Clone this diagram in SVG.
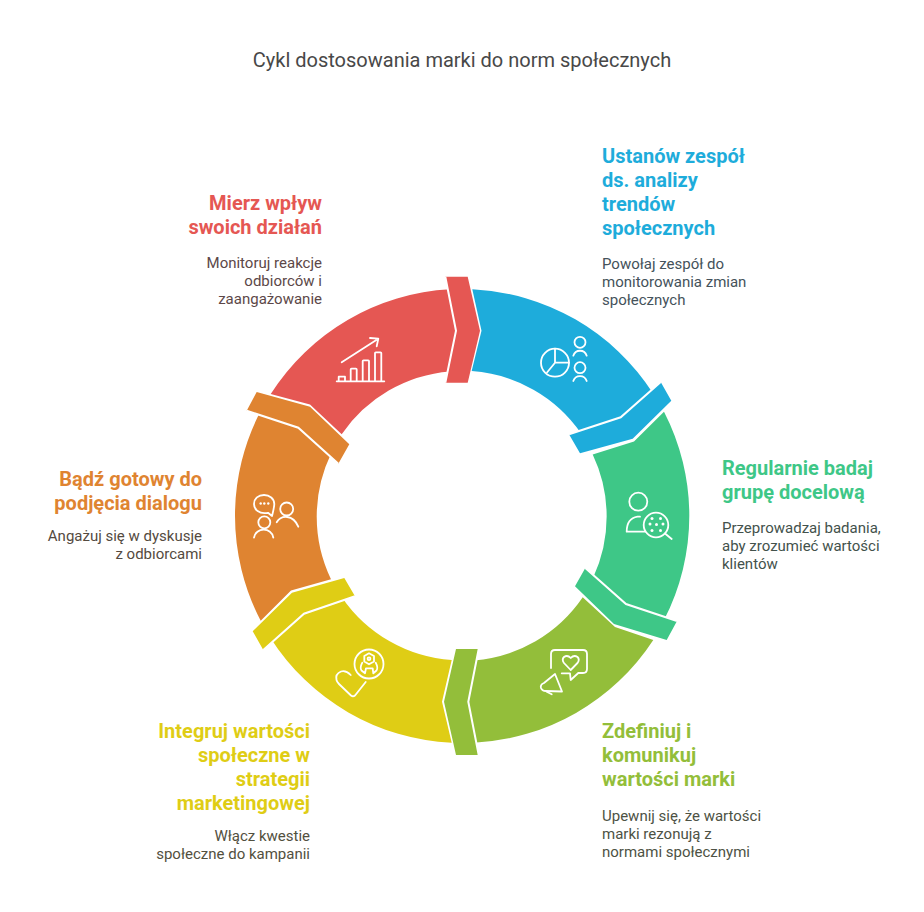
<svg xmlns="http://www.w3.org/2000/svg" width="924" height="912" viewBox="0 0 924 912">
<style>
text{font-family:Roboto,"Liberation Sans",sans-serif}
.title{font-size:20px;fill:#484848;text-anchor:middle}
.h{font-size:20px;font-weight:700}
.d{font-size:15px;fill:#4a4a4a}
.e{text-anchor:end}
.i{fill:none;stroke:#fff;stroke-width:1.8;stroke-linecap:round;stroke-linejoin:round}
.dot{fill:#fff}
.sep{fill:none;stroke:#fff;stroke-width:2}
.blue{fill:#1eacdb}.red{fill:#e55753}.orange{fill:#df8431}.yellow{fill:#dfcd15}.olive{fill:#93be3a}.green{fill:#3ec787}
</style>
<rect width="924" height="912" fill="#fff"/>
<text class="title" x="462" y="67">Cykl dostosowania marki do norm społecznych</text>

<g id="node-blue">
<path class="blue" d="M472.300 289.300A227 227 0 0 1 653 393.300L622.500 419.500 581 433.200A145 145 0 0 0 471.700 371L481.500 330.700Z"/>
<g class="i"><circle cx="555" cy="362.700" r="14"/><path d="M555 348.700V362.700H569M555 362.700L547 372.500"/><circle cx="580" cy="342.300" r="5.500"/><path d="M573.300 355.700A7 7 0 0 1 586.700 355.700"/><circle cx="580" cy="367.700" r="5.500"/><path d="M573.300 381A7 7 0 0 1 586.700 381"/></g>
<text class="h" fill="#1eacdb"><tspan x="602" y="163">Ustanów zespół</tspan><tspan x="602" y="187">ds. analizy</tspan><tspan x="602" y="211">trendów</tspan><tspan x="602" y="235">społecznych</tspan></text>
<text class="d" style="fill:#44525a"><tspan x="602" y="269">Powołaj zespół do</tspan><tspan x="602" y="287">monitorowania zmian</tspan><tspan x="602" y="305">społecznych</tspan></text>
</g>

<g id="node-green">
<path class="green" d="M664 411.700A227 227 0 0 1 664 620L624 606.500 593 578A145 145 0 0 0 592.700 454.500L634 441.500Z"/>
<g class="i"><circle cx="638.300" cy="501.700" r="9"/><path d="M640 516.700H637.500Q626.700 518.500 626.700 531.700H645"/><circle cx="656" cy="525" r="12.300"/><path d="M665 533.500L671.700 539"/></g>
<g class="dot"><circle cx="656.500" cy="524.500" r="1.500"/><circle cx="650" cy="524" r="1.500"/><circle cx="663" cy="524" r="1.500"/><circle cx="652" cy="518.500" r="1.500"/><circle cx="660.500" cy="518.500" r="1.500"/><circle cx="652" cy="530.500" r="1.500"/><circle cx="660.500" cy="530.500" r="1.500"/></g>
<text class="h" fill="#3ec787"><tspan x="722" y="475">Regularnie badaj</tspan><tspan x="722" y="499">grupę docelową</tspan></text>
<text class="d" style="fill:#43524c"><tspan x="722" y="533">Przeprowadzaj badania,</tspan><tspan x="722" y="551">aby zrozumieć wartości</tspan><tspan x="722" y="569">klientów</tspan></text>
</g>

<g id="node-olive">
<path class="olive" d="M653.300 640A227 227 0 0 1 474 742.700L465 701.700 474 660.500A145 145 0 0 0 582.700 597.300L615 627Z"/>
<g class="i"><path d="M551 668V654Q551 650 555 650H583Q587 650 587 654V669Q587 673 583 673H578.300L570.700 680 570 673.300H561.700"/><path d="M570.700 670L564 663Q561.500 659.500 564 657Q567.500 654.500 570.700 658Q574 654.500 577.500 657Q580 659.500 577.500 663Z"/><path d="M555 674L544 683Q540 684.500 541 688Q542 691 546 691L562 691.500Z"/><path d="M546.700 691.700L551.700 694.300"/></g>
<text class="h" fill="#93be3a"><tspan x="602" y="738">Zdefiniuj i</tspan><tspan x="602" y="762">komunikuj</tspan><tspan x="602" y="786">wartości marki</tspan></text>
<text class="d" style="fill:#4d5244"><tspan x="602" y="821">Upewnij się, że wartości</tspan><tspan x="602" y="839">marki rezonują z</tspan><tspan x="602" y="857">normami społecznymi</tspan></text>
</g>

<g id="node-yellow">
<path class="yellow" d="M451.700 742.700A227 227 0 0 1 270.500 637.900L303 611 342 597.400A145 145 0 0 0 451.700 660L442 701.700Z"/>
<g class="i"><circle cx="369" cy="664" r="14.500"/><path d="M369 653.300L374 656V661.500L369 664.300 364.300 661.500V656Z"/><circle cx="369" cy="658.700" r="1.400"/><path d="M362.300 662.700Q359.500 668 361.500 670.500L365 673.300 366 668.300H372.700L373.300 673.300 376.500 670.500Q378.500 668 375.700 662.700"/><path d="M350.700 675Q346 670 341 671.500Q335 674 336.500 680Q337 682 339 684L351 695.500Q353 697 355 695.500L365.700 682"/></g>
<text class="h e" fill="#dfcd15"><tspan x="310" y="738">Integruj wartości</tspan><tspan x="310" y="762">społeczne w</tspan><tspan x="310" y="786">strategii</tspan><tspan x="310" y="810">marketingowej</tspan></text>
<text class="d e" style="fill:#52503e"><tspan x="310" y="841">Włącz kwestie</tspan><tspan x="310" y="859">społeczne do kampanii</tspan></text>
</g>

<g id="node-orange">
<path class="orange" d="M260.700 620.700A227 227 0 0 1 261 410.300L300 425 331 453.800A145 145 0 0 0 331 579.300L291 590.500Z"/>
<g class="i"><path d="M272 516L268 512.800C259 514.500 254 509.500 254 504C254 498.500 258.500 495 264 495C269.500 495 274.300 498.500 274.300 504C274.300 507 273.500 510 272 516Z"/><circle cx="286.700" cy="509" r="6.500"/><path d="M276.700 522.300C281 515 293 514 298.300 526.700"/><circle cx="264.300" cy="522.300" r="6"/><path d="M254 537.700C255.500 527 272 527 273.300 537.700"/></g>
<g class="dot"><circle cx="260.700" cy="503.500" r="1.200"/><circle cx="264.300" cy="503.500" r="1.200"/><circle cx="268.300" cy="503.500" r="1.200"/></g>
<text class="h e" fill="#df8431"><tspan x="202" y="486">Bądź gotowy do</tspan><tspan x="202" y="510">podjęcia dialogu</tspan></text>
<text class="d e" style="fill:#544a40"><tspan x="202" y="541">Angażuj się w dyskusje</tspan><tspan x="202" y="559">z odbiorcami</tspan></text>
</g>

<g id="node-red">
<path class="red" d="M270.700 394A227 227 0 0 1 450 289.300L459 330.700 450 371.500A145 145 0 0 0 341.700 434.300L310 404.500Z"/>
<g class="i"><path d="M336.700 381.300H384.300"/><path d="M338.700 381V376.700H345V381M350.700 381V369.500Q350.700 368.700 351.500 368.700H355.900Q356.700 368.700 356.700 369.500V381M362.700 381V361Q362.700 360.300 363.500 360.300H368.200Q369 360.300 369 361V381M375 381V353Q375 352.300 375.800 352.300H380.500Q381.300 352.300 381.300 353V381"/><path d="M341.700 362.300L378.300 338.700M370 338L378.300 338.700 376.700 346.300"/></g>
<text class="h e" fill="#e55753"><tspan x="322" y="210">Mierz wpływ</tspan><tspan x="322" y="234">swoich działań</tspan></text>
<text class="d e" style="fill:#5c4848"><tspan x="322" y="268">Monitoruj reakcje</tspan><tspan x="322" y="286">odbiorców i</tspan><tspan x="322" y="304">zaangażowanie</tspan></text>
</g>

<g id="connectors">
<path class="red" d="M445.300 276.700H467.700L480 330.700 467.700 382.700H445.300L456 330.700Z"/>
<path class="sep" d="M445.300 276.700L456 330.700 445.300 382.700"/>
<path class="blue" d="M660.700 382L671.300 400.700 632.700 438.700 580 453.300 569 434.300 620.700 417.300Z"/>
<path class="sep" d="M660.700 382L620.700 417.300 569 434.300"/>
<path class="green" d="M585.300 568L626 604 677 621 666.700 640 614 624 575 586.300Z"/>
<path class="sep" d="M585.300 568L626 604 677 621"/>
<path class="olive" d="M456 649H478.700L468.300 701.700 478.700 755H456L444 701.700Z"/>
<path class="sep" d="M478.700 649L468.300 701.700 478.700 755"/>
<path class="yellow" d="M344.300 578L355 596.300 304 613.700 263.300 650 252.700 631.300 292 592.700Z"/>
<path class="sep" d="M355 596.300L304 613.700 263.300 650"/>
<path class="orange" d="M256.700 392L310 406.700 349.300 444.300 338.300 463.700 298.300 427.700 246.700 410.700Z"/>
<path class="sep" d="M338.300 463.700L298.300 427.700 246.700 410.700"/>
</g>
</svg>
